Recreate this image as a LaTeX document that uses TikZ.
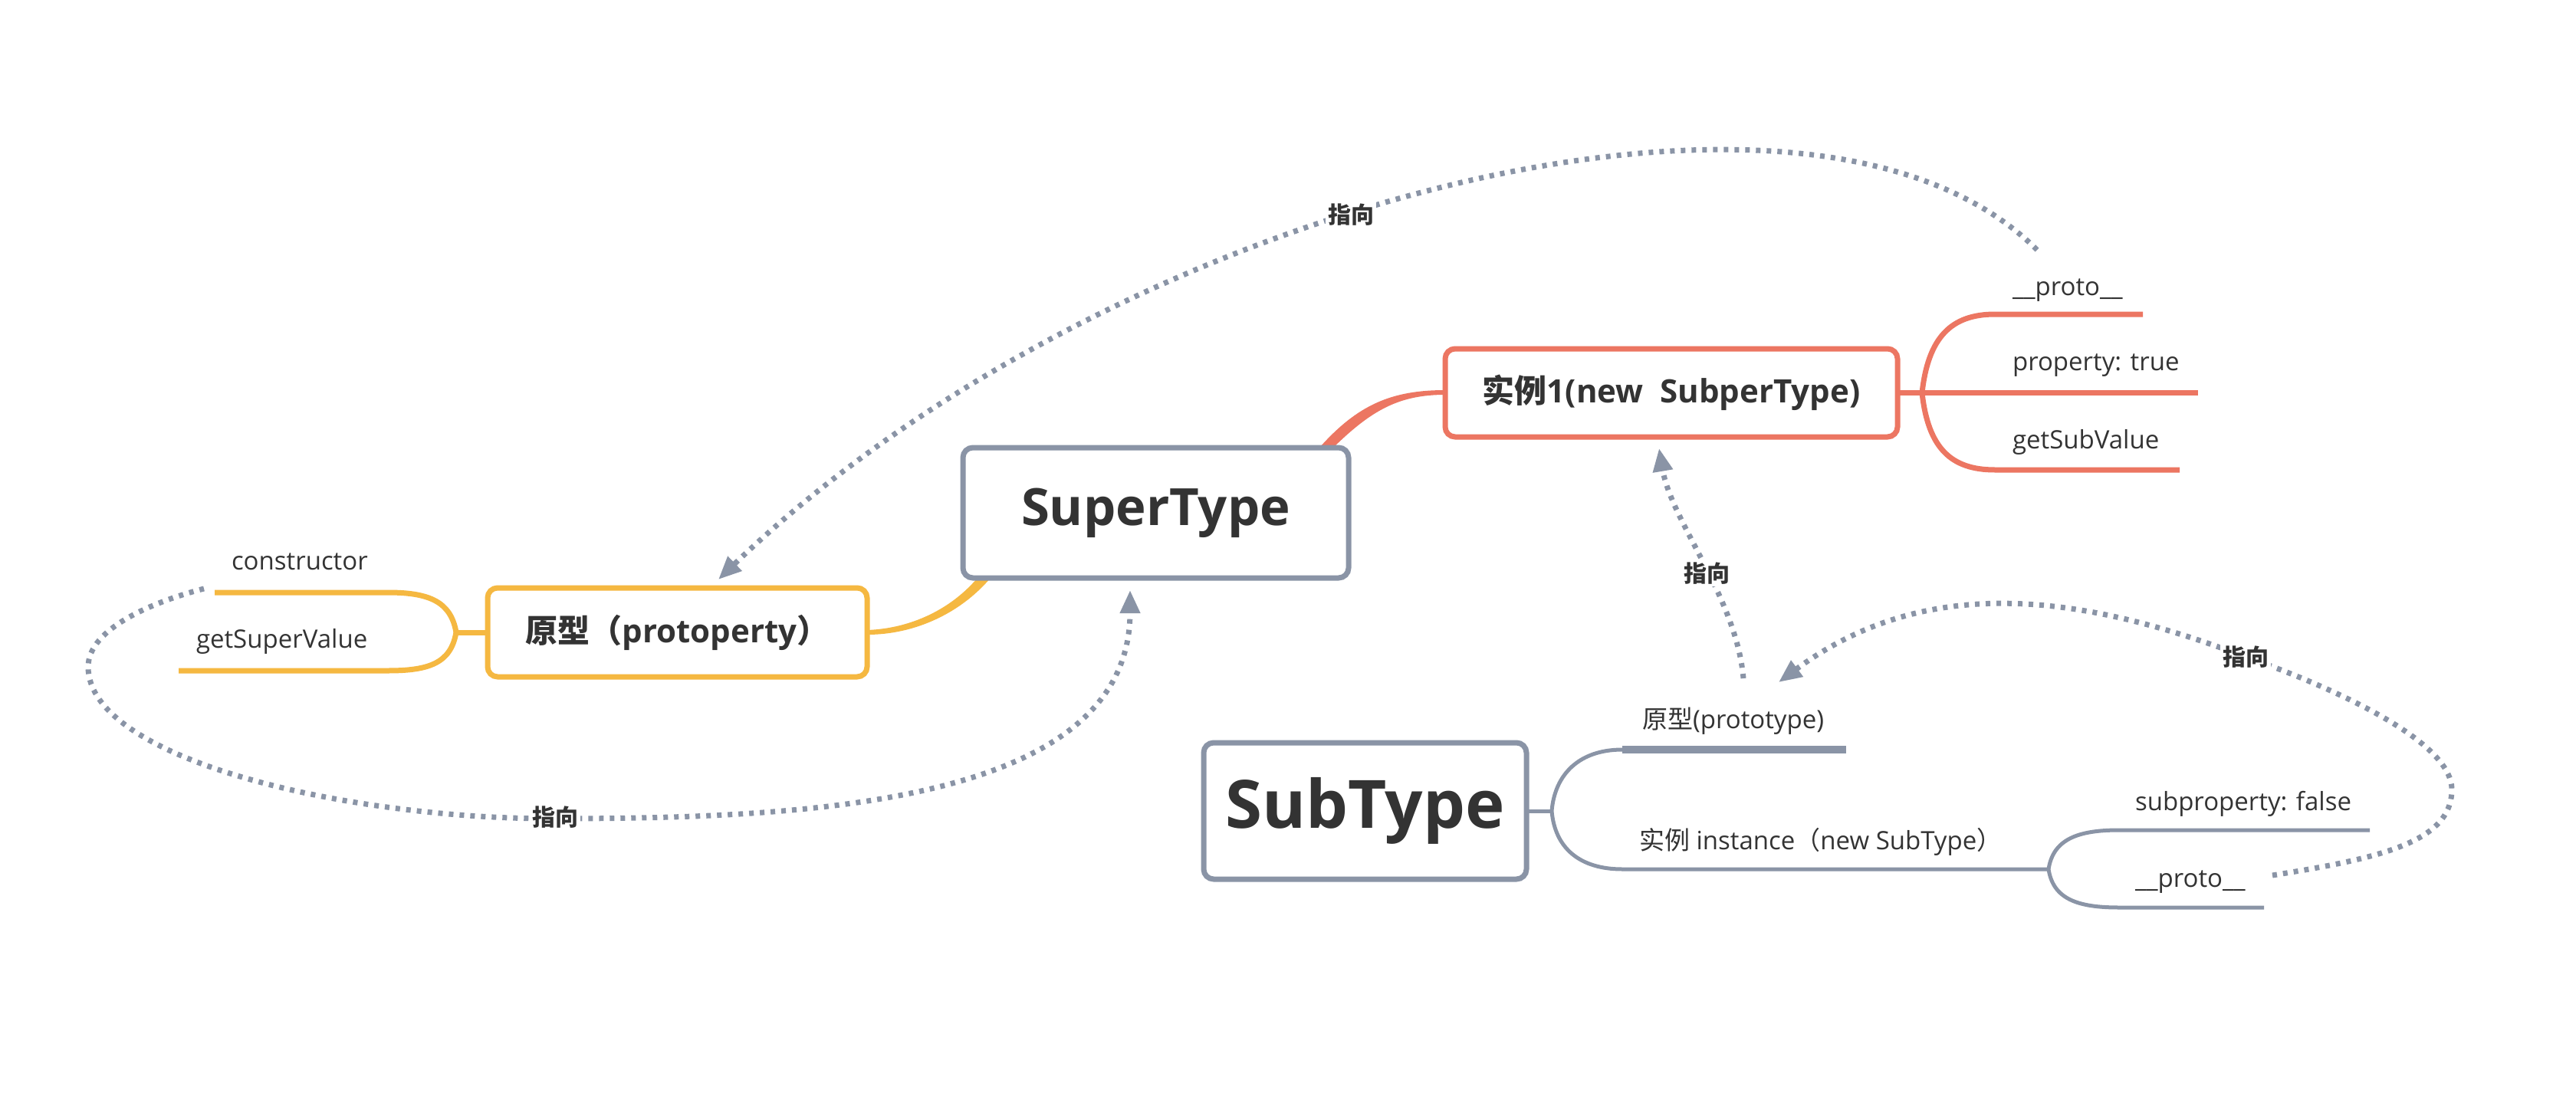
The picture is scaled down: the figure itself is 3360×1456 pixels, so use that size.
\documentclass[tikz,border=0pt]{standalone}
\usepackage{fontspec}
\setmainfont{Open Sans}
\newfontfamily\cjk{Noto Sans CJK SC}
\usetikzlibrary{arrows.meta}
\definecolor{tgray}{HTML}{8A94A6}
\definecolor{tred}{HTML}{EC7662}
\definecolor{tyel}{HTML}{F5B841}
\definecolor{ttext}{HTML}{333333}
\begin{document}
\begin{tikzpicture}[x=1pt,y=-1pt,
  tbox/.style={draw, rounded corners=13pt, line width=7pt, fill=white, text=ttext, inner sep=0pt, outer sep=0pt},
  leaf/.style={anchor=base west, inner sep=0pt, outer sep=0pt, text=ttext, font=\fontsize{33}{39}\selectfont},
  redline/.style={draw=tred, line width=7pt},
  yelline/.style={draw=tyel, line width=7pt},
  grayline/.style={draw=tgray, line width=5pt},
  ptr/.style={draw=tgray, line width=7pt, dash pattern=on 6pt off 8pt, -{Triangle[length=30pt,width=25pt]}},
  ptrlabel/.style={fill=white, inner sep=3pt, text=ttext, font=\cjk\bfseries\fontsize{30}{36}\selectfont}
]
\fill[white] (0,0) rectangle (3360,1456);
\useasboundingbox (0,0) rectangle (3360,1456);

% --- coordinates for connector ends
\coordinate (rf) at (2507,512.5);
\coordinate (yf) at (595,825);
\coordinate (gf) at (2024,1058);

% --- main connectors (tapered)
\fill[tred] (1721,584) .. controls (1771,528) and (1815,509) .. (1885,509) -- (1885,515) .. controls (1825,515) and (1789,535) .. (1739,584) -- cycle;
\fill[tyel] (1131,822) .. controls (1188,820) and (1240,795) .. (1275,754) -- (1292,754) .. controls (1252,801) and (1192,828) .. (1131,828) -- cycle;

% --- red branches
\draw[redline] (2475,512.5) -- (rf) -- (2867,512.5) coordinate (rpropE);
\draw[redline] (rf) .. controls (2515,440) and (2545,410) .. (2602,410) -- (2795,410) coordinate (rprotoE);
\draw[redline] (rf) .. controls (2515,585) and (2545,613) .. (2602,613) -- (2843,613) coordinate (rgetE);

% --- yellow branches
\draw[yelline] (636,825) -- (yf);
\draw[yelline] (yf) .. controls (588,785) and (560,773) .. (506,773) -- (280,773) coordinate (yconsE);
\draw[yelline] (yf) .. controls (588,865) and (560,875) .. (506,875) -- (233,875) coordinate (ygetE);

% --- gray branches
\draw[grayline] (1991,1058) -- (gf);
\draw[grayline] (gf) .. controls (2028,1010) and (2060,978) .. (2116,978) coordinate (gtop);
\draw[draw=tgray, line width=10pt] (gtop) -- (2408,978) coordinate (sprotoE);
\draw[grayline] (gf) .. controls (2028,1106) and (2060,1134) .. (2116,1134) -- (2672,1134) coordinate (gf2);
\draw[grayline] (gf2) .. controls (2678,1095) and (2710,1083) .. (2764,1083) -- (3091,1083) coordinate (ssubE);
\draw[grayline] (gf2) .. controls (2678,1173) and (2710,1184) .. (2764,1184) -- (2953,1184) coordinate (sprE);

% --- boxes
\node[tbox, draw=tgray, minimum width=503pt, minimum height=170pt, font=\bfseries\fontsize{67}{80}\selectfont] (super) at (1507.5,669) {SuperType};
\node[tbox, draw=tred, minimum width=590pt, minimum height=115pt, font=\bfseries\fontsize{42}{50}\selectfont] (inst) at (2180,512.5) {{\cjk 实例}1(new\ \ SubperType)};
\node[tbox, draw=tyel, minimum width=495pt, minimum height=116pt, font=\bfseries\fontsize{42}{50}\selectfont] (orig) at (883.5,825) {{\cjk 原型（}protoperty{\cjk ）}};
\node[tbox, draw=tgray, minimum width=421pt, minimum height=178pt, font=\bfseries\fontsize{87}{104}\selectfont] (sub) at (1780.5,1058) {SubType};

% --- leaf texts
\node[leaf] (rproto) at (2625,385) {\_\_proto\_\_};
\node[leaf] (rprop) at (2625,483) {property: true};
\node[leaf] (rget) at (2625,585) {getSubValue};
\node[leaf] (ycons) at (302,743) {constructor};
\node[leaf] (yget) at (256,845) {getSuperValue};
\node[leaf] (sproto) at (2142,950) {{\cjk 原型}(prototype)};
\node[leaf] (sinst) at (2138,1108) {{\cjk 实例} instance{\cjk （}new SubType{\cjk ）}};
\node[leaf] (ssub) at (2785,1057) {subproperty: false};
\node[leaf] (spr) at (2785,1157) {\_\_proto\_\_};

% --- pointer arrows
\coordinate (p1s) at (2657,326);
\coordinate (p1e) at (937,756);
\coordinate (p2s) at (266,768);
\coordinate (p2e) at (1474,770);
\coordinate (p3s) at (2274,885);
\coordinate (p3e) at (2164,585);
\coordinate (p4s) at (2964,1142);
\coordinate (p4e) at (2320,890);

\draw[ptr] (p1s) .. controls (2357,26) and (1437,275) .. (p1e);
\draw[ptr] (p2s) .. controls (200,785) and (115,820) .. (115,870) .. controls (115,990) and (450,1068) .. (720,1068) .. controls (1050,1068) and (1474,1050) .. (p2e);
\draw[ptr] (p3s) .. controls (2265,780) and (2180,680) .. (p3e);
\draw[ptr] (p4s) .. controls (3100,1120) and (3198,1100) .. (3198,1030) .. controls (3198,960) and (3010,885) .. (2929,857) .. controls (2729,781) and (2520,742) .. (p4e);

\node[ptrlabel] (l1) at (1762,280) {指向};
\node[ptrlabel] (l2) at (724,1066) {指向};
\node[ptrlabel] (l3) at (2226,748) {指向};
\node[ptrlabel] (l4) at (2929,857) {指向};
\end{tikzpicture}
\end{document}
